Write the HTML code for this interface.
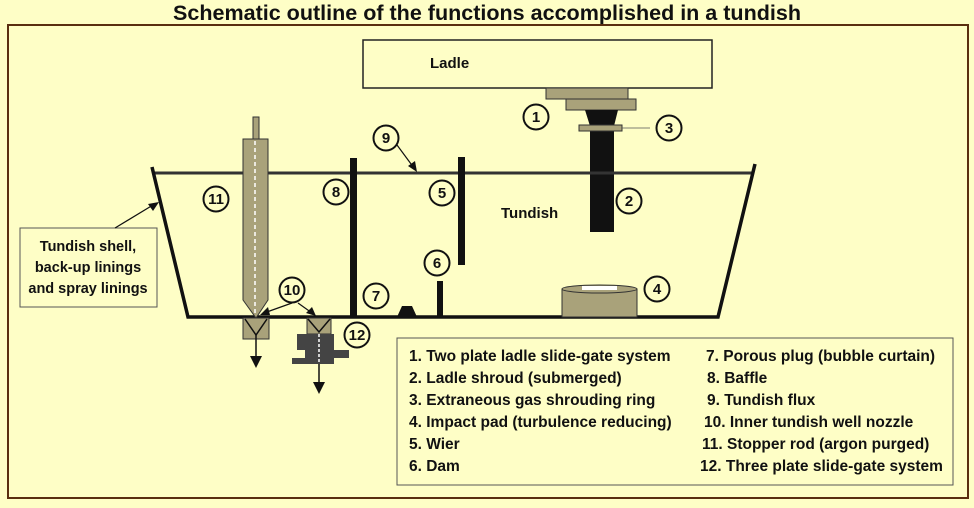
<!DOCTYPE html>
<html><head><meta charset="utf-8"><style>
body{margin:0;background:#fefec6;}
svg{display:block}
text{font-family:"Liberation Sans",sans-serif;font-weight:bold;fill:#111}
</style></head><body>
<svg width="974" height="508" viewBox="0 0 974 508" xmlns="http://www.w3.org/2000/svg">
<rect width="974" height="508" fill="#fefec6"/>
<text x="487" y="20" font-size="21" text-anchor="middle" textLength="628" lengthAdjust="spacingAndGlyphs">Schematic outline of the functions accomplished in a tundish</text>
<rect x="8" y="25" width="960" height="473" fill="none" stroke="#5a2e10" stroke-width="2"/>
<!-- ladle -->
<rect x="363" y="40" width="349" height="48" fill="#fefec6" stroke="#222" stroke-width="1.5"/>
<text x="430" y="68" font-size="15">Ladle</text>
<rect x="546" y="88" width="82" height="11" fill="#a9a27a" stroke="#333"/>
<rect x="566" y="99" width="70" height="11" fill="#a9a27a" stroke="#333"/>
<polygon points="585,110 618,110 614,126 590,126" fill="#111"/>
<rect x="590" y="126" width="24" height="106" fill="#111"/>
<rect x="579" y="125" width="43" height="6" fill="#a9a27a" stroke="#333"/>
<line x1="622" y1="128" x2="650" y2="128" stroke="#555" stroke-width="0.8"/>
<!-- tundish -->
<line x1="152" y1="173" x2="752" y2="173" stroke="#333" stroke-width="3"/>
<polyline points="152,167 188,317 718,317 755,164" fill="none" stroke="#111" stroke-width="3.5"/>
<!-- stopper rod -->
<rect x="253" y="117" width="6" height="23" fill="#a9a27a" stroke="#333"/>
<path d="M243,139 H268 V300 L256,318 L243,300 Z" fill="#a9a27a" stroke="#333"/>
<line x1="255" y1="141" x2="255" y2="316" stroke="#fff" stroke-width="1.5" stroke-dasharray="4,3"/>
<!-- baffle, weir, dam, plug -->
<rect x="350" y="158" width="7" height="159" fill="#111"/>
<rect x="458" y="157" width="7" height="108" fill="#111"/>
<rect x="437" y="281" width="6" height="36" fill="#111"/>
<polygon points="397,317 402,306 412,306 417,317" fill="#111"/>
<!-- impact pad -->
<rect x="562" y="289" width="75" height="28" fill="#a9a27a" stroke="#333"/>
<ellipse cx="599.5" cy="289" rx="37.5" ry="4" fill="#a9a27a" stroke="#333"/>
<rect x="582" y="286" width="35" height="4" fill="#fff"/>
<!-- nozzle under stopper -->
<rect x="243" y="318" width="26" height="21" fill="#a9a27a" stroke="#333"/>
<polyline points="245,319 256,335 267,319" fill="none" stroke="#111" stroke-width="1.5"/>
<line x1="256" y1="335" x2="256" y2="362" stroke="#111" stroke-width="1.5"/>
<polygon points="250,356 256,368 262,356" fill="#111"/>
<!-- slide gate 12 -->
<rect x="307" y="318" width="24" height="16" fill="#a9a27a" stroke="#333"/>
<polyline points="308,319 319,332 330,319" fill="none" stroke="#111" stroke-width="1.5"/>
<rect x="297" y="334" width="37" height="16" fill="#444"/>
<rect x="305" y="350" width="44" height="8" fill="#444"/>
<rect x="292" y="358" width="42" height="6" fill="#444"/>
<line x1="319" y1="334" x2="319" y2="364" stroke="#fff" stroke-width="1.5" stroke-dasharray="3,2"/>
<line x1="319" y1="364" x2="319" y2="388" stroke="#111" stroke-width="1.5"/>
<polygon points="313,382 319,394 325,382" fill="#111"/>
<!-- label 10 arrows -->
<line x1="292" y1="303" x2="264" y2="313" stroke="#111" stroke-width="1.2"/>
<polygon points="260,315 268,307 270,315" fill="#111"/>
<line x1="298" y1="303" x2="312" y2="313" stroke="#111" stroke-width="1.2"/>
<polygon points="316,316 306,313 312,307" fill="#111"/>
<!-- label 9 arrow -->
<line x1="397" y1="145" x2="414" y2="168" stroke="#111" stroke-width="1.2"/>
<polygon points="417,172 408,166 415,161" fill="#111"/>
<!-- numbered circles -->
<g fill="#fefec6" stroke="#111" stroke-width="2">
<circle cx="536" cy="117" r="12.5"/><circle cx="669" cy="128" r="12.5"/><circle cx="629" cy="201" r="12.5"/>
<circle cx="657" cy="289" r="12.5"/><circle cx="442" cy="193" r="12.5"/><circle cx="437" cy="263" r="12.5"/>
<circle cx="376" cy="296" r="12.5"/><circle cx="336" cy="192" r="12.5"/><circle cx="386" cy="138" r="12.5"/>
<circle cx="292" cy="290" r="12.5"/><circle cx="216" cy="199" r="12.5"/><circle cx="357" cy="335" r="12.5"/>
</g>
<g font-size="15" text-anchor="middle">
<text x="536" y="122">1</text><text x="669" y="133">3</text><text x="629" y="206">2</text>
<text x="657" y="294">4</text><text x="442" y="198">5</text><text x="437" y="268">6</text>
<text x="376" y="301">7</text><text x="336" y="197">8</text><text x="386" y="143">9</text>
<text x="292" y="295">10</text><text x="216" y="204">11</text><text x="357" y="340">12</text>
</g>
<text x="501" y="218" font-size="15">Tundish</text>
<!-- shell label -->
<rect x="20" y="228" width="137" height="79" fill="#fefec6" stroke="#555"/>
<g font-size="14.5" text-anchor="middle"><text x="88" y="251">Tundish shell,</text><text x="88" y="272">back-up linings</text><text x="88" y="293">and spray linings</text></g>
<line x1="115" y1="228" x2="153" y2="205" stroke="#111" stroke-width="1.2"/>
<polygon points="159,202 148,204 153,211" fill="#111"/>
<!-- legend -->
<rect x="397" y="338" width="556" height="147" fill="#fefec6" stroke="#555"/>
<g font-size="15.5">
<text x="409" y="361">1. Two plate ladle slide-gate system</text>
<text x="409" y="383">2. Ladle shroud (submerged)</text>
<text x="409" y="405">3. Extraneous gas shrouding ring</text>
<text x="409" y="427">4. Impact pad (turbulence reducing)</text>
<text x="409" y="449">5. Wier</text>
<text x="409" y="471">6. Dam</text>
<text x="706" y="361">7. Porous plug (bubble curtain)</text>
<text x="707" y="383">8. Baffle</text>
<text x="707" y="405">9. Tundish flux</text>
<text x="704" y="427">10. Inner tundish well nozzle</text>
<text x="702" y="449">11. Stopper rod (argon purged)</text>
<text x="700" y="471">12. Three plate slide-gate system</text>
</g>
</svg>
</body></html>
